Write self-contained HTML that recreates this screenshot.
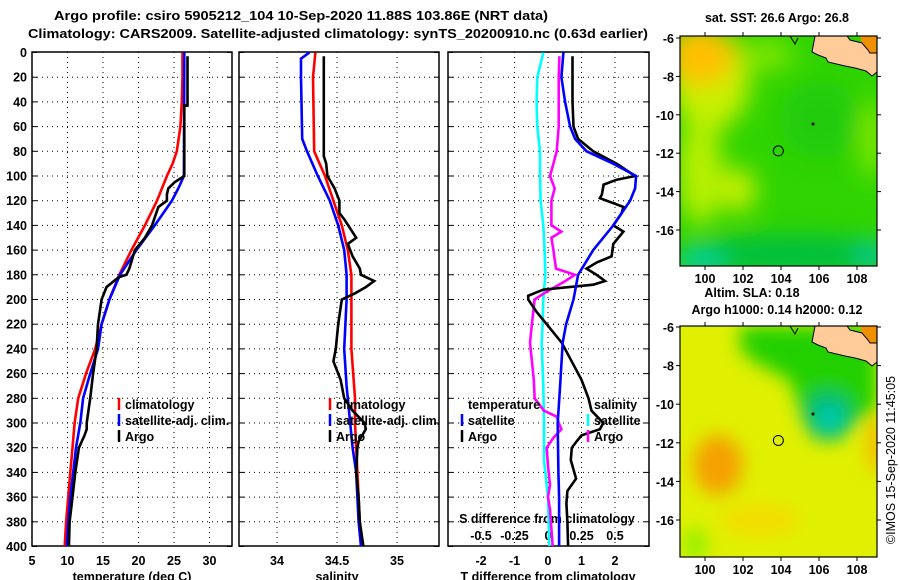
<!DOCTYPE html>
<html><head><meta charset="utf-8"><style>
html,body{margin:0;padding:0;background:#fff;}
svg{display:block;font-family:"Liberation Sans",sans-serif;font-weight:bold;}
text{font-size:12.5px;fill:#000;}
</style></head><body>
<svg id="fig" width="900" height="580" viewBox="0 0 900 580">
<defs>
<clipPath id="c1"><rect x="32" y="52" width="200" height="494"/></clipPath>
<clipPath id="c2"><rect x="239" y="52" width="200" height="494"/></clipPath>
<clipPath id="c3"><rect x="448" y="52" width="201" height="494"/></clipPath>
<clipPath id="m1"><rect x="680" y="36" width="197" height="230"/></clipPath>
<clipPath id="m2"><rect x="680" y="326" width="197" height="231"/></clipPath>
<filter id="bl" x="-50%" y="-50%" width="200%" height="200%"><feGaussianBlur stdDeviation="12"/></filter>
<filter id="bl2" x="-50%" y="-50%" width="200%" height="200%"><feGaussianBlur stdDeviation="9"/></filter>
</defs>
<text x="301" y="20" text-anchor="middle" textLength="494" lengthAdjust="spacingAndGlyphs">Argo profile: csiro 5905212_104 10-Sep-2020 11.88S 103.86E (NRT data)</text>
<text x="338" y="38" text-anchor="middle" textLength="620" lengthAdjust="spacingAndGlyphs">Climatology: CARS2009. Satellite-adjusted climatology: synTS_20200910.nc (0.63d earlier)</text>
<g id="axes"></g>
<g id="series"></g>
<g id="maps"></g>
</svg>
<script>
// ---------- data ----------
const depthTicks=[0,20,40,60,80,100,120,140,160,180,200,220,240,260,280,300,320,340,360,380,400];
const tempTicks=[5,10,15,20,25,30];
const salTicks=[34,34.5,35];
const salTickLabels=["34","34.5","35"];
const tdiffTicks=[-2,-1,0,1,2];
const sdiffTicks=[-0.5,-0.25,0,0.25,0.5];
const sdiffTickLabels=["-0.5","-0.25","0","0.25","0.5"];

const climTDepth=[0,20,40,60,80,90,100,120,140,160,180,200,220,240,260,280,300,320,340,360,380,400];
const climT=[26.2,26.2,26.1,25.9,25.4,24.8,24.0,22.6,20.9,19.0,17.3,15.9,14.8,13.9,12.6,11.5,11.0,10.7,10.4,10.1,9.8,9.6];
const satTDepth=[0,100,110,120,140,160,180,200,220,240,260,280,300,320,340,360,380,400];
const satT=[26.45,26.4,25.6,24.7,22.3,19.7,17.4,15.9,14.8,14.3,13.2,12.2,11.8,11.2,10.8,10.4,10.1,9.9];
const argoTDepth=[3,43,43,100,105,110,115,120,125,140,150,160,175,180,182,190,200,220,240,260,280,300,305,310,320,340,360,380,400];
const argoT=[26.9,26.9,26.45,26.45,25.1,24.2,24.0,24.0,22.8,21.9,20.9,19.5,18.7,18.3,17.2,15.5,14.8,14.3,14.1,13.6,13.2,12.7,12.7,12.4,11.6,11.1,10.7,10.3,10.2];

const climSDepth=[0,20,80,100,120,140,160,180,200,240,280,300,340,360,400];
const climS=[34.32,34.30,34.31,34.40,34.47,34.54,34.59,34.62,34.62,34.62,34.65,34.65,34.67,34.68,34.70];
const satSDepth=[0,5,20,70,80,100,120,140,160,180,200,240,270,300,320,340,360,380,400];
const satS=[34.27,34.20,34.20,34.21,34.25,34.34,34.44,34.51,34.56,34.58,34.58,34.56,34.58,34.61,34.63,34.66,34.67,34.68,34.70];
const argoSDepth=[3,84,90,100,110,120,130,135,150,155,165,175,180,185,190,195,200,220,240,250,265,280,290,300,305,315,320,340,360,380,400];
const argoS=[34.39,34.39,34.41,34.42,34.48,34.52,34.52,34.56,34.66,34.59,34.63,34.69,34.70,34.81,34.74,34.65,34.54,34.51,34.49,34.47,34.53,34.56,34.63,34.73,34.74,34.68,34.67,34.66,34.68,34.69,34.72];

const dTsatDepth=[0,20,40,60,70,80,90,100,110,120,140,160,180,200,220,235,270,300,340,360,400];
const dTsat=[0.46,0.40,0.51,0.66,0.81,1.15,1.95,2.63,2.6,2.45,1.95,1.35,0.9,0.76,0.54,0.44,0.36,0.29,0.31,0.33,0.33];
const dTargoDepth=[3,40,60,70,80,90,100,103,107,115,118,125,130,140,145,155,165,170,175,180,185,188,192,197,200,210,220,235,265,280,290,300,305,310,315,320,330,345,355,365,380,400];
const dTargo=[0.73,0.73,0.76,0.9,1.35,2.05,2.6,2.05,1.66,1.61,1.55,2.25,2.2,1.95,2.25,1.95,1.9,1.45,1.15,1.45,1.7,1.35,-0.14,-0.59,-0.59,-0.34,-0.04,0.41,1.0,1.21,1.3,1.65,1.55,1.0,0.85,0.71,0.68,0.84,0.58,0.55,0.58,0.6];
const dSsatDepth=[0,20,40,60,80,100,120,140,160,180,200,220,235,270,300,330,360,400];
const dSsat=[-0.035,-0.08,-0.085,-0.08,-0.06,-0.06,-0.055,-0.035,-0.025,-0.02,-0.035,-0.04,-0.047,-0.035,-0.03,-0.03,0,0.01];
const dSargoDepth=[3,20,60,80,90,100,110,120,140,145,150,160,175,180,185,195,200,220,235,265,280,290,295,300,305,312,320,335,350,360,370,400];
const dSargo=[0.085,0.08,0.08,0.065,0.04,0.015,0.05,0.025,0.025,0.10,0.025,0.04,0.06,0.2,0.13,-0.03,-0.1,-0.12,-0.134,-0.106,-0.1,-0.03,0.067,0.08,0.1,0.04,-0.01,0.0,0.015,0.0,0.015,0.035];

const lonTicks=[100,102,104,106,108];
const latTicks=[-6,-8,-10,-12,-14,-16];
const argoLon=103.86, argoLat=-11.88;

// ---------- scales ----------
const NS='http://www.w3.org/2000/svg';
const yD=d=>52.5+d*1.235;
const xT=t=>32+(t-5)*7.1;
const xS=s=>277+(s-34)*120;
const xDT=t=>548+t*33.5;
const xDS=s=>548+s*134;
const mX=lon=>705+(lon-100)*19;
const m1Y=lat=>38+(-6-lat)*19.2;
const m2Y=lat=>327+(-6-lat)*19.3;

function el(tag,attrs,parent,txt){const e=document.createElementNS(NS,tag);for(const k in attrs)e.setAttribute(k,attrs[k]);if(txt!==undefined)e.textContent=txt;parent.appendChild(e);return e;}
const axes=document.getElementById('axes');
const series=document.getElementById('series');
const maps=document.getElementById('maps');

const panels=[{x0:32,x1:232,ticks:tempTicks,labels:tempTicks.map(String),f:xT,title:"temperature (deg C)",tx:132,name:'temperature'},
{x0:239,x1:439,ticks:salTicks,labels:salTickLabels,f:xS,title:"salinity",tx:337,name:'salinity'},
{x0:448,x1:649,ticks:tdiffTicks,labels:tdiffTicks.map(String),f:xDT,title:"T difference from climatology",tx:548,name:'difference'}];
panels.forEach(p=>{
  const g=el('g',{},axes);
  
  
  depthTicks.forEach(d=>{
    if(d>0&&d<400){const l=el('line',{x1:p.x0,x2:p.x1,y1:yD(d),y2:yD(d),stroke:'#000','stroke-width':1,'stroke-dasharray':'1,4'},g);
    }
    el('line',{x1:p.x0,x2:p.x0+5,y1:yD(d),y2:yD(d),stroke:'#000'},g);
    el('line',{x1:p.x1-5,x2:p.x1,y1:yD(d),y2:yD(d),stroke:'#000'},g);
  });
  p.ticks.forEach((t,i)=>{
    const x=p.f(t);
    if(x>p.x0+1&&x<p.x1-1){const l=el('line',{x1:x,x2:x,y1:52,y2:546,stroke:'#000','stroke-width':1,'stroke-dasharray':'1,4'},g);
    }
    const tl=el('text',{x:x,y:565,'text-anchor':'middle'},g,p.labels[i]);
    
  });
  const r=el('rect',{x:p.x0,y:52,width:p.x1-p.x0,height:494,fill:'none',stroke:'#000','stroke-width':1.5},g);
  
  const at=el('text',{x:p.tx,y:581,'text-anchor':'middle'},g,p.title);
  
});
depthTicks.forEach(d=>{const t=el('text',{x:27,y:yD(d)+4.5,'text-anchor':'end'},axes,String(d));
});
sdiffTicks.forEach((s,i)=>{const t=el('text',{x:xDS(s),y:540,'text-anchor':'middle'},axes,sdiffTickLabels[i]);
});
{const t=el('text',{x:547,y:523,'text-anchor':'middle'},axes,'S difference from climatology');
}

function line(depths,vals,fx,color,clip,name){
  const pts=depths.map((d,i)=>fx(vals[i]).toFixed(1)+','+yD(d).toFixed(1)).join(' ');
  const pl=el('polyline',{points:pts,fill:'none',stroke:color,'stroke-width':2.6,'stroke-linejoin':'miter','clip-path':'url(#'+clip+')'},series);
  
  
}
line(climTDepth,climT,xT,'#ff0000','c1','climatology-temperature-line');
line(satTDepth,satT,xT,'#0000ff','c1','satellite-temperature-line');
line(argoTDepth,argoT,xT,'#000000','c1','argo-temperature-line');
line(climSDepth,climS,xS,'#ff0000','c2','climatology-salinity-line');
line(satSDepth,satS,xS,'#0000ff','c2','satellite-salinity-line');
line(argoSDepth,argoS,xS,'#000000','c2','argo-salinity-line');
line(dSsatDepth,dSsat,xDS,'#00ffff','c3','satellite-salinity-diff-line');
line(dSargoDepth,dSargo,xDS,'#ff00ff','c3','argo-salinity-diff-line');
line(dTargoDepth,dTargo,xDT,'#000000','c3','argo-temperature-diff-line');
line(dTsatDepth,dTsat,xDT,'#0000ff','c3','satellite-temperature-diff-line');

function legend(x,y,color,label,name){
  const g=el('g',{},series);
  
  
  if(color) el('line',{x1:x,x2:x,y1:y-11,y2:y+1,stroke:color,'stroke-width':2.5},g);
  el('text',{x:x+6,y:y},g,label);
}
legend(119,409,'#ff0000','climatology','legend-climatology');
legend(119,425,'#0000ff','satellite-adj. clim.','legend-satellite-adj');
legend(119,441,'#000000','Argo','legend-argo');
legend(330,409,'#ff0000','climatology','legend-climatology-salinity');
legend(330,425,'#0000ff','satellite-adj. clim.','legend-satellite-adj-salinity');
legend(330,441,'#000000','Argo','legend-argo-salinity');
legend(462,409,null,'temperature','legend-temperature-header');
legend(462,425,'#0000ff','satellite','legend-temperature-satellite');
legend(462,441,'#000000','Argo','legend-temperature-argo');
legend(588,409,null,'salinity','legend-salinity-header');
legend(588,425,'#00ffff','satellite','legend-salinity-satellite');
legend(588,441,'#ff00ff','Argo','legend-salinity-argo');

// ---------- maps ----------
function land(g,dy){
  el('polygon',{points:`860,${36+dy} 877,${36+dy} 877,${56+dy} 868,${54+dy} 862,${44+dy}`,fill:'#f09000'},g);
  const pts=[[815,36],[847,36],[850,40],[862,43],[868,50],[870,53],[877,53],[877,72],[872,76],[866,71],[855,68],[845,66],[828,62],[826,58],[818,55],[812,52]];
  el('polygon',{points:pts.map(p=>p[0]+','+(p[1]+dy)).join(' '),fill:'#ffcc99',stroke:'#000','stroke-width':1},g);
  el('polyline',{points:`${790},${36+dy} ${795},${44+dy} ${798},${38+dy}`,fill:'none',stroke:'#000','stroke-width':1},g);
  el('circle',{cx:813,cy:124+dy,r:1.5,fill:'#000'},g);
}
function mapAxes(g,fy,top,bot){
  lonTicks.forEach(l=>{
    el('line',{x1:mX(l),x2:mX(l),y1:top-4,y2:top,stroke:'#000'},g);
    el('line',{x1:mX(l),x2:mX(l),y1:bot,y2:bot+4,stroke:'#000'},g);
    const t=el('text',{x:mX(l),y:bot+17,'text-anchor':'middle'},g,String(l));
    
  });
  latTicks.forEach(l=>{
    el('line',{x1:676,x2:680,y1:fy(l),y2:fy(l),stroke:'#000'},g);
    el('line',{x1:877,x2:881,y1:fy(l),y2:fy(l),stroke:'#000'},g);
    const t=el('text',{x:674,y:fy(l)+5,'text-anchor':'end'},g,String(l));
    
  });
  el('rect',{x:680,y:top,width:197,height:bot-top,fill:'none',stroke:'#000','stroke-width':1.2},g);
}
// map 1 (SST)
{
  const g=el('g',{},maps);
  
  
  const f=el('g',{'clip-path':'url(#m1)'},g);
  el('rect',{x:680,y:36,width:197,height:230,fill:'#30d400'},f);
  const b=el('g',{filter:'url(#bl)'},f);
  el('ellipse',{cx:710,cy:80,rx:40,ry:50,fill:'#c8f000'},b);
  el('ellipse',{cx:700,cy:55,rx:35,ry:30,fill:'#ffc000'},b);
  el('ellipse',{cx:700,cy:170,rx:22,ry:55,fill:'#b8f000'},b);
  el('ellipse',{cx:738,cy:190,rx:18,ry:22,fill:'#c8f000'},b);
  el('ellipse',{cx:790,cy:255,rx:110,ry:20,fill:'#00c040'},b);
  el('ellipse',{cx:700,cy:262,rx:25,ry:12,fill:'#00d0b0'},b);
  el('ellipse',{cx:872,cy:255,rx:15,ry:14,fill:'#00c8a0'},b);
  el('ellipse',{cx:872,cy:140,rx:10,ry:40,fill:'#90ec00'},b);
  el('ellipse',{cx:765,cy:55,rx:30,ry:15,fill:'#80e600'},b);
  el('ellipse',{cx:820,cy:120,rx:40,ry:40,fill:'#20cc10'},b);
  land(f,0);
  el('circle',{cx:mX(argoLon),cy:m1Y(argoLat),r:5,fill:'none',stroke:'#000','stroke-width':1},f);
  mapAxes(g,m1Y,36,266);
  const t=el('text',{x:777,y:22,'text-anchor':'middle'},g,'sat. SST: 26.6 Argo: 26.8');
  
}
// map 2 (SLA)
{
  const g=el('g',{},maps);
  
  
  const f=el('g',{'clip-path':'url(#m2)'},g);
  el('rect',{x:680,y:326,width:197,height:231,fill:'#e0f000'},f);
  const b=el('g',{filter:'url(#bl2)'},f);
  el('polygon',{points:'740,326 877,326 877,410 860,420 840,440 815,440 800,410 790,380 760,365 740,350',fill:'#20d000'},b);
  el('ellipse',{cx:828,cy:415,rx:24,ry:24,fill:'#00b870'},b);
  el('ellipse',{cx:830,cy:418,rx:12,ry:13,fill:'#00d0b8'},b);
  el('ellipse',{cx:718,cy:465,rx:25,ry:30,fill:'#f5a000'},b);
  el('ellipse',{cx:876,cy:445,rx:8,ry:28,fill:'#f8b000'},b);
  el('ellipse',{cx:695,cy:545,rx:12,ry:18,fill:'#90f000'},b);
  el('ellipse',{cx:760,cy:520,rx:40,ry:15,fill:'#f4dc00'},b);
  land(f,290);
  el('circle',{cx:mX(argoLon),cy:m2Y(argoLat),r:5,fill:'none',stroke:'#000','stroke-width':1},f);
  mapAxes(g,m2Y,326,557);
  const t1=el('text',{x:752,y:297,'text-anchor':'middle'},g,'Altim. SLA: 0.18');
  
  const t2=el('text',{x:777,y:314,'text-anchor':'middle'},g,'Argo h1000: 0.14 h2000: 0.12');
  
  const t3=el('text',{x:895,y:460,'text-anchor':'middle',transform:'rotate(-90 895 460)','font-weight':'normal'},g,'©IMOS 15-Sep-2020 11:45:05');
  
}
</script>
</body></html>
